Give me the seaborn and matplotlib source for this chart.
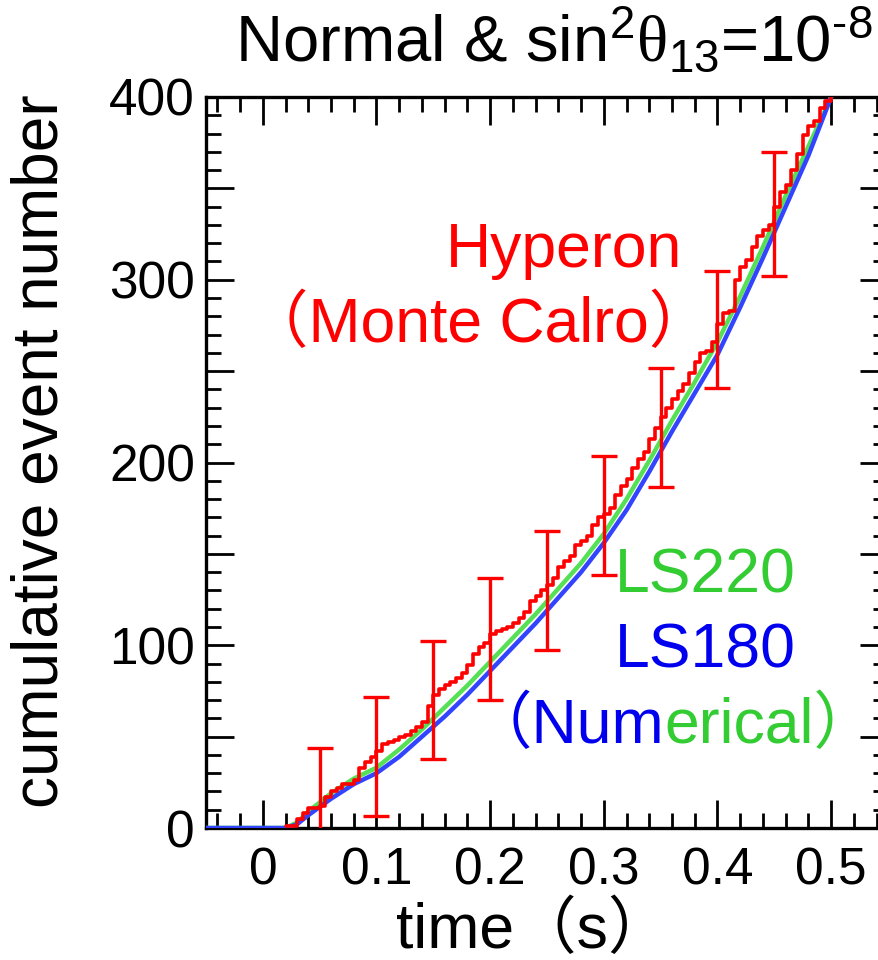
import numpy as np
import pandas as pd
import matplotlib
matplotlib.use("Agg")
import matplotlib.pyplot as plt
import seaborn as sns
from matplotlib.ticker import MultipleLocator, FuncFormatter

# ---------------- data ----------------
# Monte Carlo (Hyperon) cumulative counts, steps every 0.005 s from 0.020 s
red_t = [round(0.020 + 0.005 * i, 3) for i in range(97)]
red_n = [1, 1, 5, 8, 11, 11,
         12, 17, 20, 22, 24, 24, 26, 33, 36, 39,
         42, 46, 47, 48, 50, 51, 53, 55, 58, 67,
         73, 76, 78, 80, 82, 85, 89, 95, 99, 101,
         106, 108, 109, 110, 112, 115, 118, 124, 127, 130,
         133, 137, 143, 146, 149, 155, 157, 160, 166, 170,
         172, 175, 182, 187, 191, 197, 202, 206, 213, 219,
         225, 230, 235, 239, 243, 249, 255, 260, 261, 266,
         276, 282, 283, 300, 307, 311, 318, 324, 327, 330,
         340, 348, 352, 360, 369, 379, 384, 387, 394, 398,
         400]

# Numerical curves
num_t = [-0.05, 0.00, 0.02, 0.03, 0.04, 0.06, 0.08, 0.10, 0.12, 0.14, 0.16,
         0.18, 0.20, 0.22, 0.24, 0.26, 0.28, 0.30, 0.32, 0.34, 0.36, 0.38,
         0.40, 0.42, 0.44, 0.46, 0.48, 0.50]
ls180_n = [0, 0, 0, 2, 7, 16, 24, 30, 39, 50, 61, 73, 86, 99, 112, 126, 140,
           156, 174, 195, 217, 238, 259, 285, 312, 340, 368, 400]
ls220_n = [0, 0, 0, 3, 9, 19, 27, 33, 43, 54, 66, 78, 91, 104, 117, 131, 145,
           161, 180, 201, 223, 244, 266, 291, 318, 346, 373, 400]

# error bars on the Monte Carlo curve
err_t = [0.05, 0.10, 0.15, 0.20, 0.25, 0.30, 0.35, 0.40, 0.45]
err_c = [11, 39, 70, 103.5, 130, 171, 219, 273, 336]
err_e = [33, 32.5, 32.5, 33.5, 32.5, 32.5, 32.5, 32, 34]

xticks = [0, 0.1, 0.2, 0.3, 0.4, 0.5]
xticklabels = ["0", "0.1", "0.2", "0.3", "0.4", "0.5"]
yticks = [0, 100, 200, 300, 400]

# ---------------- style ----------------
sns.set_theme(style="ticks")
plt.rcParams["font.family"] = ["Liberation Sans", "Noto Sans CJK JP", "DejaVu Sans"]
plt.rcParams["mathtext.fontset"] = "custom"
plt.rcParams["mathtext.rm"] = "Liberation Sans"
plt.rcParams["mathtext.it"] = "Liberation Sans:italic"
plt.rcParams["mathtext.sf"] = "Liberation Serif"
for k in ["text.color", "axes.labelcolor", "xtick.color", "ytick.color",
          "xtick.labelcolor", "ytick.labelcolor"]:
    plt.rcParams[k] = "black"

RED = "#ff0000"
GREEN = "#33cc33"
BLUE = "#0000ee"

fig = plt.figure(figsize=(8.79, 9.6), dpi=100)
fig.patch.set_facecolor("white")
ax = fig.add_axes([206 / 879, 132 / 960, (888 - 206) / 879, (828 - 97) / 960])
ax.set_facecolor("white")

df_num = pd.DataFrame({"t": num_t, "LS220": ls220_n, "LS180": ls180_n})
df_red = pd.DataFrame({"t": red_t, "n": red_n})

sns.lineplot(data=df_num, x="t", y="LS220", ax=ax, color="#55e055", lw=3.2,
             estimator=None, sort=False, zorder=3)
sns.lineplot(data=df_num, x="t", y="LS180", ax=ax, color="#3344ff", lw=3.2,
             estimator=None, sort=False, zorder=3)
sns.lineplot(data=df_red, x="t", y="n", ax=ax, color=RED, lw=2.6,
             drawstyle="steps-post", estimator=None, sort=False, zorder=4)
ax.errorbar(err_t, err_c, yerr=err_e, fmt="none", ecolor=RED, elinewidth=2.4,
            capsize=9.5, capthick=2.4, zorder=5)

ax.set_xlim(-0.05, 0.55)
ax.set_ylim(0, 400)

ax.set_xticks(xticks)
ax.set_xticklabels(xticklabels)
ax.xaxis.set_minor_locator(MultipleLocator(0.02))
ax.yaxis.set_major_locator(MultipleLocator(50))
ax.yaxis.set_minor_locator(MultipleLocator(10))
ax.yaxis.set_major_formatter(FuncFormatter(
    lambda v, p: f"{int(v)}" if int(round(v)) in yticks else ""))

for s in ax.spines.values():
    s.set_linewidth(2.4)
    s.set_color("black")
ax.tick_params(which="both", direction="in", top=True, right=True,
               width=2.0, color="black", labelcolor="black", labelsize=37)
ax.tick_params(which="major", length=20)
ax.tick_params(which="minor", length=11)
ax.tick_params(axis="y", which="major", pad=8)
ax.tick_params(axis="x", which="major", pad=13)

ax.set_xlabel("time（s）", fontsize=45, color="black")
ax.xaxis.set_label_coords(0.48, -0.10)
ax.set_ylabel("cumulative event number", fontsize=46, va="center", color="black")
ax.yaxis.set_label_coords(-0.243, 0.515)

# annotations
ax.text(0.265, 307, "Hyperon", color=RED, fontsize=45, ha="center", va="baseline")
ax.text(0.190, 266, "（Monte Calro）", color=RED, fontsize=45, ha="center",
        va="baseline")
ax.text(0.310, 129, "LS220", color=GREEN, fontsize=45, ha="left", va="baseline")
ax.text(0.310, 88, "LS180", color=BLUE, fontsize=45, ha="left", va="baseline")
t1 = ax.text(0.182, 46.5, "（Num", color=BLUE, fontsize=45, ha="left",
             va="baseline")
ax.annotate("erical）", xy=(1, 0), xycoords=t1, color=GREEN, fontsize=45,
            ha="left", va="bottom")

fig.text(872 / 879, 1 - 62 / 960,
         r"Normal & sin$^{2}\mathsf{\theta}_{13}$=10$^{\text{-8}}$",
         fontsize=47, ha="right", va="baseline", color="black")

fig.savefig("out.png", dpi=100, facecolor="white")
